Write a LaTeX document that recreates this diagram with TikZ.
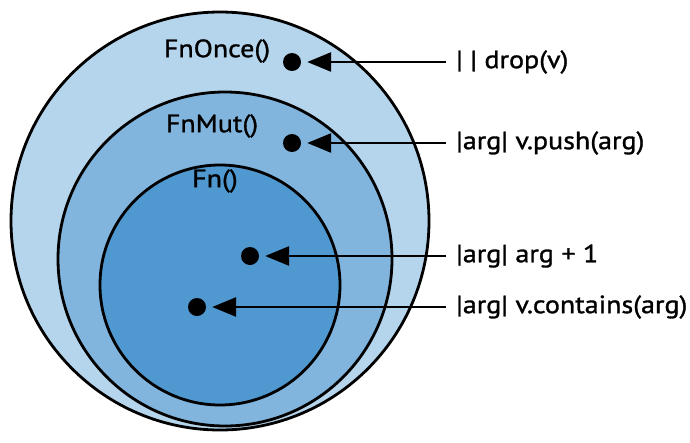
\documentclass[tikz,border=0pt]{standalone}
\usepackage{fontspec}
\setmainfont{PT Sans}[FakeStretch=1.12,FakeBold=1.2]
\usetikzlibrary{arrows.meta}
\definecolor{c1}{HTML}{B5D5EC}
\definecolor{c2}{HTML}{82B5DD}
\definecolor{c3}{HTML}{5098D0}
\begin{document}
\begin{tikzpicture}[x=1pt,y=-1pt,
 ring/.style={draw=black,line width=2.8pt},
 dot/.style={circle,fill=black,inner sep=0pt,minimum size=18pt},
 lbl/.style={font=\fontsize{25}{28}\selectfont,anchor=west,inner sep=0pt},
 ttl/.style={font=\fontsize{25}{28}\selectfont,inner sep=0pt},
 arr/.style={line width=2.8pt,-{Triangle[length=24pt,width=19pt]}}]
\useasboundingbox (0,0) rectangle (690,442);
\fill[c1,ring] (220,221) circle (209);
\fill[c2,ring] (225,259) circle (167);
\fill[c3,ring] (220,285) circle (120);
\node[ttl] (t1) at (217,51) {FnOnce()};
\node[ttl] (t2) at (212,126) {FnMut()};
\node[ttl] (t3) at (215,181) {Fn()};
\node[dot] (d1) at (292,62) {};
\node[dot] (d2) at (292,143) {};
\node[dot] (d3) at (250,256) {};
\node[dot] (d4) at (197,307) {};
\node[lbl] (l1) at (456,62) {| | drop(v)};
\node[lbl] (l2) at (456,143) {|arg| v.push(arg)};
\node[lbl] (l3) at (456,256) {|arg| arg + 1};
\node[lbl] (l4) at (456,307) {|arg| v.contains(arg)};
\foreach \i in {1,2,3,4} \draw[arr] ([xshift=-10pt]l\i.west) -- ([xshift=6pt]d\i.east);
\end{tikzpicture}
\end{document}
